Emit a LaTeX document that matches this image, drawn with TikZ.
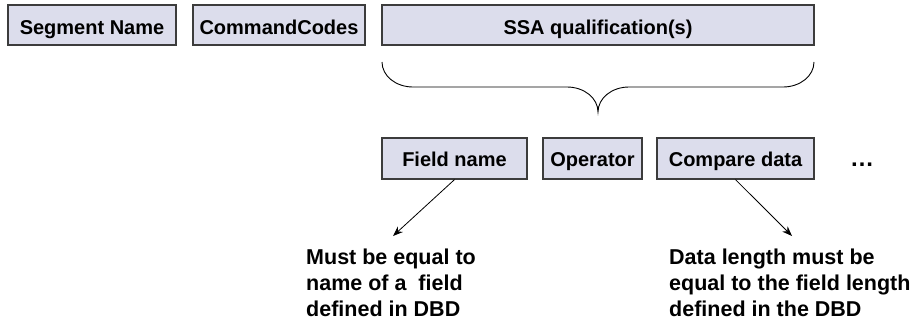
\documentclass[tikz,border=0pt]{standalone}
\usepackage{fontspec}
\setmainfont{Liberation Sans}
\usetikzlibrary{arrows.meta}
\definecolor{boxfill}{RGB}{220,221,236}
\definecolor{boxline}{RGB}{60,60,60}
\begin{document}
\begin{tikzpicture}[x=1pt,y=-1pt,
  cell/.style={draw=boxline, fill=boxfill, line width=1.2pt, inner sep=0pt,
    minimum height=40pt, font=\fontsize{20}{24}\selectfont\bfseries,
    text height=18pt, text depth=0pt},
  subcell/.style={cell, minimum height=41pt, text height=16pt},
  note/.style={inner sep=0pt, align=left,
    font=\fontsize{21.5}{26}\selectfont\bfseries},
  pointer/.style={line width=0.8pt, -{Stealth[length=10pt,width=7.5pt]}},
  bracepath/.style={line width=0.9pt}
]
\useasboundingbox (0,0) rectangle (920,324);

% segment search argument layout
\node[cell, minimum width=168pt] (seg) at (92,25) {Segment Name};
\node[cell, minimum width=172pt] (cmd) at (279,25) {CommandCodes};
\node[cell, minimum width=432pt] (ssa) at (598,25) {SSA qualification(s)};

% brace under the qualification box
\draw[bracepath] (382,62) .. controls (382,76) and (396,87) .. (413,87)
  -- (567,87) .. controls (584,87) and (598,98) .. (598,112)
  .. controls (598,98) and (612,87) .. (629,87)
  -- (783,87) .. controls (800,87) and (814,76) .. (814,62);

% parts of one qualification
\node[subcell, minimum width=145pt] (fname) at (454.5,158.5) {Field name};
\node[subcell, minimum width=99pt] (oper) at (592.5,158.5) {Operator};
\node[subcell, minimum width=157pt] (cdata) at (735.5,158.5) {Compare data};
\node[inner sep=0pt, anchor=base, font=\fontsize{24}{26}\selectfont\bfseries] (more) at (862,166) {…};

% explanations (base anchor sits on the last line)
\node[note, anchor=base west] (note1) at (306,316)
  {Must be equal to\\name of a\ \ field\\defined in DBD};
\node[note, anchor=base west] (note2) at (669,316)
  {Data length must be\\equal to the field length\\defined in the DBD};

\coordinate (tip1) at (393,236);
\coordinate (tip2) at (792,236);
\draw[pointer] (fname.south) -- (tip1);
\draw[pointer] (cdata.south) -- (tip2);
\end{tikzpicture}
\end{document}
